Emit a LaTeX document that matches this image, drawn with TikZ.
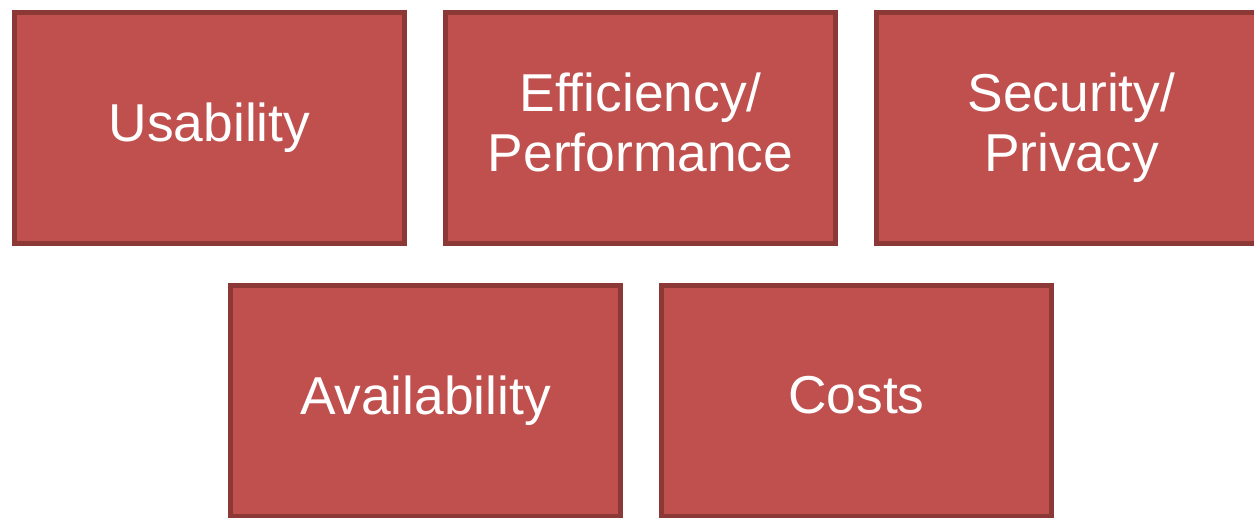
\documentclass[tikz,border=0pt]{standalone}
\usepackage{fontspec}
\setmainfont{Liberation Sans}
\usetikzlibrary{positioning}

\definecolor{boxfill}{HTML}{C0504D}
\definecolor{boxline}{HTML}{8C3836}

\begin{document}
\begin{tikzpicture}[x=0.75pt, y=0.75pt,
  goal/.style={rectangle, draw=boxline, fill=boxfill, line width=3.75pt,
    minimum width=292.5pt, minimum height=173.25pt, inner sep=0pt,
    text depth=8.5pt, align=center, text=white,
    font=\fontsize{40}{45}\selectfont},
  node distance=27pt]

\useasboundingbox (0,0) rectangle (1254,-518);

\node[goal] (g1) at (209.5,-128) {Usability};
\node[goal] (g2) [right=of g1] {Efficiency/\\Performance};
\node[goal] (g3) [right=of g2] {Security/\\Privacy};
\node[goal] (g4) at (425.5,-401) {Availability};
\node[goal] (g5) [right=of g4] {Costs};

\end{tikzpicture}
\end{document}
